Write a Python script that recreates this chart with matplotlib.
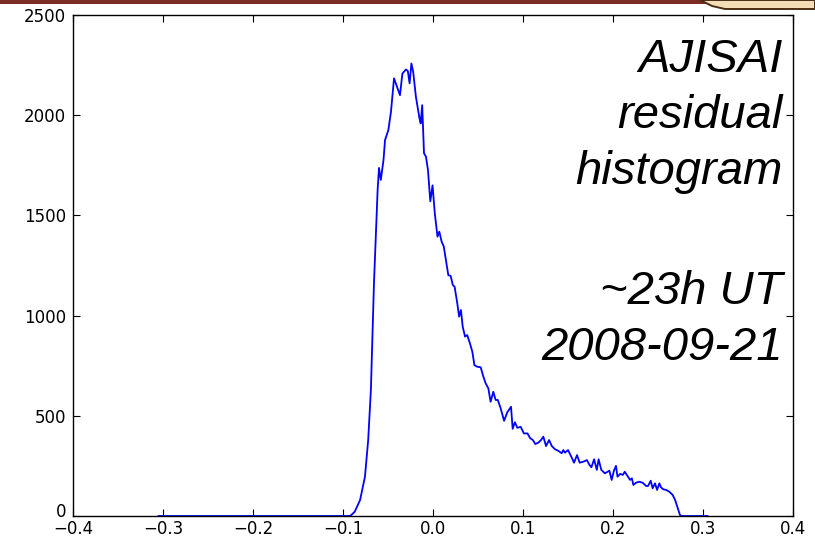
import matplotlib
matplotlib.use("Agg")
import matplotlib.pyplot as plt
import matplotlib.transforms as mtransforms
from matplotlib.patches import Rectangle, Polygon

# Histogram of residuals (bin centre, count)
residual = [-0.305, -0.092, -0.087, -0.081, -0.0756, -0.072, -0.069, -0.0674, -0.0656, -0.0633,
            -0.0615, -0.060, -0.058, -0.055, -0.0533, -0.0496, -0.0467, -0.0433, -0.040, -0.0367,
            -0.034, -0.030, -0.028, -0.026, -0.024, -0.022, -0.019, -0.015, -0.0137, -0.012,
            -0.010, -0.0078, -0.0056, -0.003, -0.0005, 0.002, 0.005, 0.007, 0.0096, 0.012,
            0.0144, 0.017, 0.0196, 0.022, 0.024, 0.027, 0.029, 0.031, 0.033, 0.0356,
            0.038, 0.041, 0.0437, 0.046, 0.049, 0.053, 0.056, 0.0585, 0.0615, 0.064,
            0.067, 0.0696, 0.072, 0.075, 0.079, 0.0826, 0.0867, 0.0885, 0.091, 0.0937,
            0.0974, 0.101, 0.105, 0.108, 0.111, 0.1137, 0.117, 0.120, 0.1226, 0.1256,
            0.129, 0.132, 0.1356, 0.139, 0.143, 0.1448, 0.1467, 0.150, 0.154, 0.1567,
            0.160, 0.163, 0.167, 0.171, 0.174, 0.176, 0.179, 0.182, 0.184, 0.187,
            0.191, 0.196, 0.1985, 0.201, 0.2033, 0.205, 0.208, 0.211, 0.213, 0.216,
            0.219, 0.221, 0.2226, 0.2256, 0.229, 0.233, 0.2367, 0.239, 0.2419, 0.244,
            0.2467, 0.249, 0.2515, 0.2533, 0.256, 0.259, 0.2626, 0.2663, 0.269, 0.2715,
            0.2744, 0.276, 0.305]
counts = [0, 0, 21, 80, 196, 380, 630, 880, 1160, 1430,
          1630, 1737, 1677, 1776, 1876, 1926, 2017, 2184, 2142, 2100,
          2208, 2228, 2221, 2159, 2258, 2216, 2092, 1984, 1959, 2050,
          1810, 1793, 1727, 1570, 1650, 1510, 1394, 1419, 1369, 1344,
          1277, 1202, 1198, 1153, 1144, 1061, 995, 1028, 945, 895,
          903, 862, 820, 753, 745, 742, 695, 662, 637, 570,
          620, 579, 579, 540, 475, 518, 545, 435, 468, 440,
          445, 412, 412, 388, 379, 359, 366, 379, 396, 349,
          379, 349, 333, 326, 313, 329, 316, 329, 293, 266,
          304, 266, 271, 279, 254, 243, 283, 230, 283, 230,
          213, 226, 180, 226, 250, 196, 210, 205, 221, 200,
          180, 188, 155, 166, 171, 166, 150, 150, 176, 138,
          163, 130, 163, 143, 133, 130, 121, 105, 80, 46,
          5, 0, 0]

xticks = [-0.4, -0.3, -0.2, -0.1, 0.0, 0.1, 0.2, 0.3, 0.4]
yticks = [0, 500, 1000, 1500, 2000, 2500]
annot_lines = ["AJISAI", "residual", "histogram", "~23h UT", "2008-09-21"]
annot_baselines_px = [72, 128, 184, 304, 360]

W, H = 815, 539
fig = plt.figure(figsize=(W / 100, H / 100), dpi=100)
ax = fig.add_axes([73 / W, 1 - 516 / H, (793 - 73) / W, (516 - 15) / H])

ax.plot(residual, counts, color="#0000ff", lw=1.3)
ax.set_xlim(-0.4, 0.4)
ax.set_ylim(0, 2500)
ax.set_xticks(xticks)
ax.set_yticks(yticks)
ax.set_xticklabels(["\u22120.4", "\u22120.3", "\u22120.2", "\u22120.1", "0.0", "0.1", "0.2", "0.3", "0.4"])
ax.set_yticklabels([str(v) for v in yticks])
ax.tick_params(direction="in", length=5, width=0.8, top=True, right=True,
               labelsize=12, colors="black", pad=5)
ax.tick_params(axis="x", pad=3)
for s in ax.spines.values():
    s.set_linewidth(1.0)
    s.set_color("black")

# the "0" label sits slightly raised in the reference, clear of "-0.4"
zero_lbl = ax.get_yticklabels()[0]
zero_lbl.set_transform(zero_lbl.get_transform() +
                       mtransforms.ScaledTranslation(0, 4 / 72, fig.dpi_scale_trans))

for line, py in zip(annot_lines, annot_baselines_px):
    fig.text(783 / W, 1 - py / H, line, ha="right", va="baseline",
             fontsize=34, style="italic", family="Liberation Sans", color="black")

# slide decoration at the top
fig.patches.append(Rectangle((0, 1 - 4 / H), 712 / W, 4 / H, transform=fig.transFigure,
                             facecolor="#7b2c24", edgecolor="none"))
fig.patches.append(Polygon([(700 / W, 1.0), (712 / W, 1 - 6 / H), (725 / W, 1 - 9 / H),
                            (1.0, 1 - 9 / H), (1.0, 1.0)], closed=True,
                           transform=fig.transFigure, facecolor="#f2ddb6",
                           edgecolor="#4a2e14", lw=1.4))

fig.savefig("out.png", dpi=100)
